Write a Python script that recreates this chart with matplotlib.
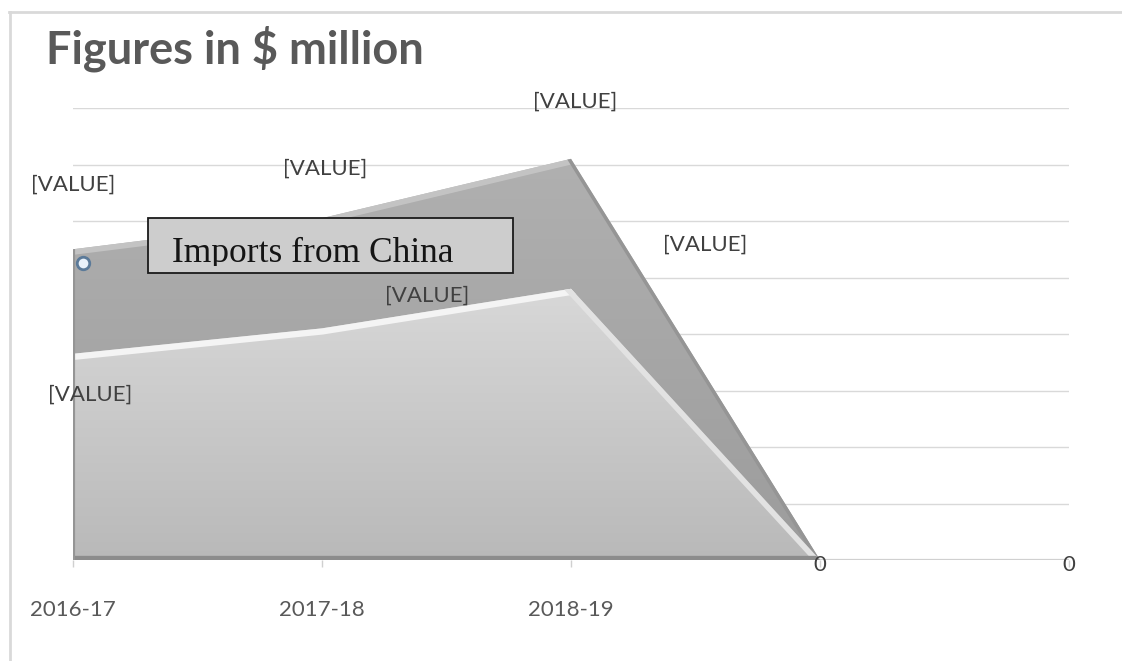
import numpy as np
import matplotlib
matplotlib.use('Agg')
import matplotlib.pyplot as plt
from matplotlib.colors import LinearSegmentedColormap
from matplotlib.patches import Polygon, Rectangle
from matplotlib.lines import Line2D
import matplotlib.transforms as mtransforms

# data (one gridline = 1 unit)
categories = ['2016-17', '2017-18', '2018-19', '', '']
back_values = [5.5, 6.05, 7.1, 0, 0]
front_values = [3.65, 4.1, 4.8, 0, 0]
back_labels = ['[VALUE]', '[VALUE]', '[VALUE]', '[VALUE]', '']
front_labels = ['[VALUE]', '', '[VALUE]', '0', '0']

# where the labels sit relative to their point (pixels), as in the source
back_offsets = [(0, 65), (3, 50), (4, 57), (-115, 315), (0, 0)]
front_offsets = [(17, -41), (0, 0), (-144, -7), (0, -5), (0, -5)]

W, H = 1122, 661
fig = plt.figure(figsize=(W / 100, H / 100), dpi=100)
ax = fig.add_axes([73 / W, 1 - 560 / H, (1069 - 73) / W, (560 - 108) / H])

x = np.arange(len(categories))
ymax = 8


def gradient_area(xs, ys, top_color, bottom_color, z):
    verts = [(xs[0], 0)] + list(zip(xs, ys)) + [(xs[-1], 0)]
    poly = Polygon(verts, closed=True, facecolor='none', edgecolor='none')
    ax.add_patch(poly)
    cmap = LinearSegmentedColormap.from_list('g', [bottom_color, top_color])
    img = ax.imshow(np.linspace(0, 1, 256).reshape(-1, 1), cmap=cmap,
                    aspect='auto', origin='lower', zorder=z,
                    extent=[xs[0], xs[-1], 0, max(ys)])
    img.set_clip_path(poly)
    return poly


# gridlines
for g in range(1, ymax + 1):
    ax.axhline(g, color='#d9d9d9', lw=1, zorder=0.5)
ax.axhline(0, color='#d0d0d0', lw=1.6, zorder=0.5)

back_poly = gradient_area(x, back_values, '#b0b0b0', '#9c9c9c', 2)
front_poly = gradient_area(x, front_values, '#d8d8d8', '#b9b9b9', 3)

# bevel-like edges
l, = ax.plot(x[:3], back_values[:3], color='#c6c6c6', lw=8, zorder=2.1,
             solid_capstyle='butt', alpha=0.9)
l.set_clip_path(back_poly)
l, = ax.plot(x[2:4], back_values[2:4], color='#959595', lw=5, zorder=2.1)
l.set_clip_path(back_poly)
l, = ax.plot(x[:3], front_values[:3], color='#f4f4f4', lw=9, zorder=3.1)
l.set_clip_path(front_poly)
l, = ax.plot(x[2:4], front_values[2:4], color='#e2e2e2', lw=8, zorder=3.1)
l.set_clip_path(front_poly)
l, = ax.plot([0, 3], [0, 0], color='#8c8c8c', lw=6, zorder=3.2)
l.set_clip_path(front_poly)
l, = ax.plot([0, 0], [0, back_values[0]], color='#959595', lw=3, zorder=3.2)
l.set_clip_path(back_poly)

# little selected-point marker near the first point
mark_tr = mtransforms.offset_copy(ax.transData, fig=fig, x=10, y=-14, units='dots')
ax.plot([x[0]], [back_values[0]], 'o', ms=9, mfc='#e8f1fa', mec='#5b7a99',
        mew=2, transform=mark_tr, zorder=6)

# data labels
lab_font = dict(family='Lato', fontsize=16, color='#404040')
for i in range(len(x)):
    if back_labels[i]:
        ax.annotate(back_labels[i], (x[i], back_values[i]), xytext=back_offsets[i],
                    textcoords='offset pixels', ha='center', va='center',
                    zorder=10, annotation_clip=False, **lab_font)
    if front_labels[i]:
        ax.annotate(front_labels[i], (x[i], front_values[i]), xytext=front_offsets[i],
                    textcoords='offset pixels', ha='center', va='center',
                    zorder=10, annotation_clip=False, **lab_font)

ax.set_xlim(0, len(x) - 1)
ax.set_ylim(0, ymax)
ax.set_xticks(x)
ax.set_xticklabels(categories, fontfamily='Lato', fontsize=16, color='#595959')
ax.tick_params(axis='x', length=5, width=1, color='#d0d0d0', pad=24)
ax.set_yticks([])
for s in ax.spines.values():
    s.set_visible(False)
ax.patch.set_alpha(0)

# chart title
fig.text(46 / W, 1 - 63 / H, 'Figures in $ million', fontfamily='Lato',
         fontweight='bold', fontsize=32.5, color='#595959', va='baseline')

# text box pasted over the chart (its text is cut just under the baseline)
box = Rectangle((148 / W, 1 - 273 / H), 365 / W, 55 / H, transform=fig.transFigure,
                facecolor='#cdcdcd', edgecolor='#1a1a1a', lw=1.3, zorder=20)
fig.add_artist(box)
inner = Rectangle((148 / W, 1 - 266 / H), 365 / W, 48 / H, transform=fig.transFigure,
                  facecolor='none', edgecolor='none')
fig.add_artist(inner)
t = fig.text(172 / W, 1 - 262 / H, 'Imports from China', fontfamily='Liberation Serif',
             fontsize=25.5, color='#151515', va='baseline', zorder=21)
t.set_clip_path(inner)

# outer chart border
fig.add_artist(Line2D([9 / W, 1], [1 - 11.5 / H] * 2, color='#d9d9d9', lw=2))
fig.add_artist(Line2D([9.5 / W] * 2, [0, 1 - 11.5 / H], color='#d9d9d9', lw=2))

fig.savefig('out.png', dpi=100)
